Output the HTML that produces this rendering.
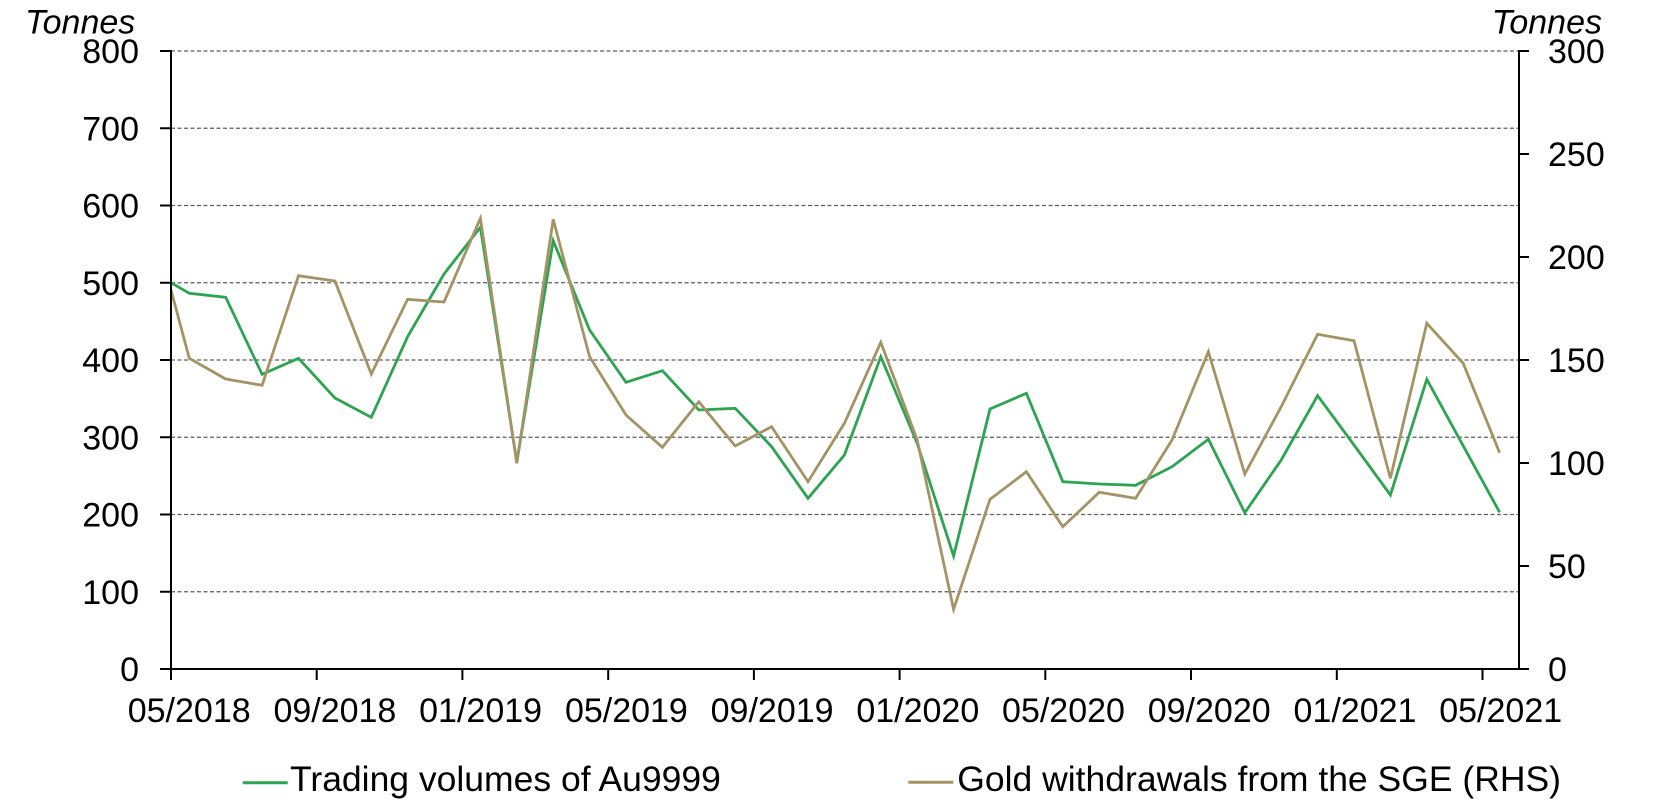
<!DOCTYPE html>
<html>
<head>
<meta charset="utf-8">
<style>
html,body{margin:0;padding:0;background:#fff;}
svg{display:block;}
text{font-family:"Liberation Sans",Arial,sans-serif;fill:#000;}
</style>
</head>
<body>
<svg width="1672" height="804" viewBox="0 0 1672 804" xmlns="http://www.w3.org/2000/svg">
<rect x="0" y="0" width="1672" height="804" fill="#fff"/>
<!-- gridlines -->
<g stroke="#5f5f5f" stroke-width="1.3" stroke-dasharray="4 2.5" fill="none">
<line x1="171" y1="51" x2="1519" y2="51"/>
<line x1="171" y1="128.25" x2="1519" y2="128.25"/>
<line x1="171" y1="205.5" x2="1519" y2="205.5"/>
<line x1="171" y1="282.75" x2="1519" y2="282.75"/>
<line x1="171" y1="360" x2="1519" y2="360"/>
<line x1="171" y1="437.25" x2="1519" y2="437.25"/>
<line x1="171" y1="514.5" x2="1519" y2="514.5"/>
<line x1="171" y1="591.75" x2="1519" y2="591.75"/>
</g>
<!-- series -->
<polyline fill="none" stroke="#2ea352" stroke-width="2.8" stroke-linejoin="miter" points="171,282.7 189.3,293.3 225.7,297.3 262.1,374.3 298.5,358.3 334.9,398 371.3,417.3 407.6,336.7 444,274 480.4,227.3 516.8,462 553.2,240.7 589.6,330 626,382.3 662.4,370.7 698.8,410 735.2,408.3 771.6,446.7 808,498.3 844.4,455 880.8,356.7 917.2,443.3 953.6,556 990,409 1026.4,393.3 1062.8,481.7 1099.2,484 1135.6,485.3 1172,466.7 1208.4,439.3 1244.8,512.7 1281.2,460 1317.6,395.7 1354,445 1390.4,495 1426.8,379.3 1463.2,445.8 1499.6,512.3"/>
<polyline fill="none" stroke="#a39466" stroke-width="2.8" stroke-linejoin="miter" points="171,290 189.3,358.3 225.7,379 262.1,385.3 298.5,275.7 334.9,281 371.3,374 407.6,299.3 444,302 480.4,218.3 516.8,463.3 553.2,219.3 589.6,356.7 626,415 662.4,447.3 698.8,401.7 735.2,446 771.6,426.7 808,481.7 844.4,423.3 880.8,342.3 917.2,440 953.6,609.3 990,499.3 1026.4,471.7 1062.8,526.7 1099.2,492.3 1135.6,498.3 1172,440 1208.4,351.7 1244.8,474 1281.2,406.7 1317.6,334.3 1354,340.7 1390.4,478.3 1426.8,323.3 1463.2,363.3 1499.6,452.7"/>
<!-- axes -->
<g stroke="#000" stroke-width="2" fill="none">
<line x1="171" y1="50" x2="171" y2="670"/>
<line x1="1519" y1="50" x2="1519" y2="670"/>
<line x1="170" y1="669" x2="1520" y2="669"/>
<!-- left ticks -->
<line x1="160" y1="51" x2="171" y2="51"/>
<line x1="160" y1="128.25" x2="171" y2="128.25"/>
<line x1="160" y1="205.5" x2="171" y2="205.5"/>
<line x1="160" y1="282.75" x2="171" y2="282.75"/>
<line x1="160" y1="360" x2="171" y2="360"/>
<line x1="160" y1="437.25" x2="171" y2="437.25"/>
<line x1="160" y1="514.5" x2="171" y2="514.5"/>
<line x1="160" y1="591.75" x2="171" y2="591.75"/>
<line x1="160" y1="669" x2="171" y2="669"/>
<!-- right ticks -->
<line x1="1519" y1="51" x2="1529" y2="51"/>
<line x1="1519" y1="154" x2="1529" y2="154"/>
<line x1="1519" y1="257" x2="1529" y2="257"/>
<line x1="1519" y1="360" x2="1529" y2="360"/>
<line x1="1519" y1="463" x2="1529" y2="463"/>
<line x1="1519" y1="566" x2="1529" y2="566"/>
<line x1="1519" y1="669" x2="1529" y2="669"/>
<!-- x ticks -->
<line x1="171" y1="669" x2="171" y2="680"/>
<line x1="316.7" y1="669" x2="316.7" y2="680"/>
<line x1="462.4" y1="669" x2="462.4" y2="680"/>
<line x1="608.2" y1="669" x2="608.2" y2="680"/>
<line x1="753.9" y1="669" x2="753.9" y2="680"/>
<line x1="899.6" y1="669" x2="899.6" y2="680"/>
<line x1="1045.3" y1="669" x2="1045.3" y2="680"/>
<line x1="1191" y1="669" x2="1191" y2="680"/>
<line x1="1336.8" y1="669" x2="1336.8" y2="680"/>
<line x1="1482.5" y1="669" x2="1482.5" y2="680"/>
</g>
<!-- axis titles -->
<text x="25" y="33.5" font-size="34" font-style="italic">Tonnes</text>
<text x="1602" y="33.5" font-size="34" font-style="italic" text-anchor="end">Tonnes</text>
<!-- left labels -->
<g font-size="34" text-anchor="end">
<text x="139" y="63">800</text>
<text x="139" y="140.25">700</text>
<text x="139" y="217.5">600</text>
<text x="139" y="294.75">500</text>
<text x="139" y="372">400</text>
<text x="139" y="449.25">300</text>
<text x="139" y="526.5">200</text>
<text x="139" y="603.75">100</text>
<text x="139" y="681">0</text>
</g>
<!-- right labels -->
<g font-size="34">
<text x="1548" y="63">300</text>
<text x="1548" y="166">250</text>
<text x="1548" y="269">200</text>
<text x="1548" y="372">150</text>
<text x="1548" y="475">100</text>
<text x="1548" y="578">50</text>
<text x="1548" y="681">0</text>
</g>
<!-- x labels -->
<g font-size="34" text-anchor="middle">
<text x="189.2" y="722">05/2018</text>
<text x="334.9" y="722">09/2018</text>
<text x="480.6" y="722">01/2019</text>
<text x="626.4" y="722">05/2019</text>
<text x="772.1" y="722">09/2019</text>
<text x="917.8" y="722">01/2020</text>
<text x="1063.5" y="722">05/2020</text>
<text x="1209.2" y="722">09/2020</text>
<text x="1355" y="722">01/2021</text>
<text x="1500.7" y="722">05/2021</text>
</g>
<!-- legend -->
<line x1="242.7" y1="782.7" x2="287.7" y2="782.7" stroke="#2ea352" stroke-width="3"/>
<text x="290" y="791" font-size="35.5">Trading volumes of Au9999</text>
<line x1="908.3" y1="782.3" x2="953.3" y2="782.3" stroke="#a39466" stroke-width="3"/>
<text x="957.3" y="791" font-size="35.5">Gold withdrawals from the SGE (RHS)</text>
</svg>
</body>
</html>
